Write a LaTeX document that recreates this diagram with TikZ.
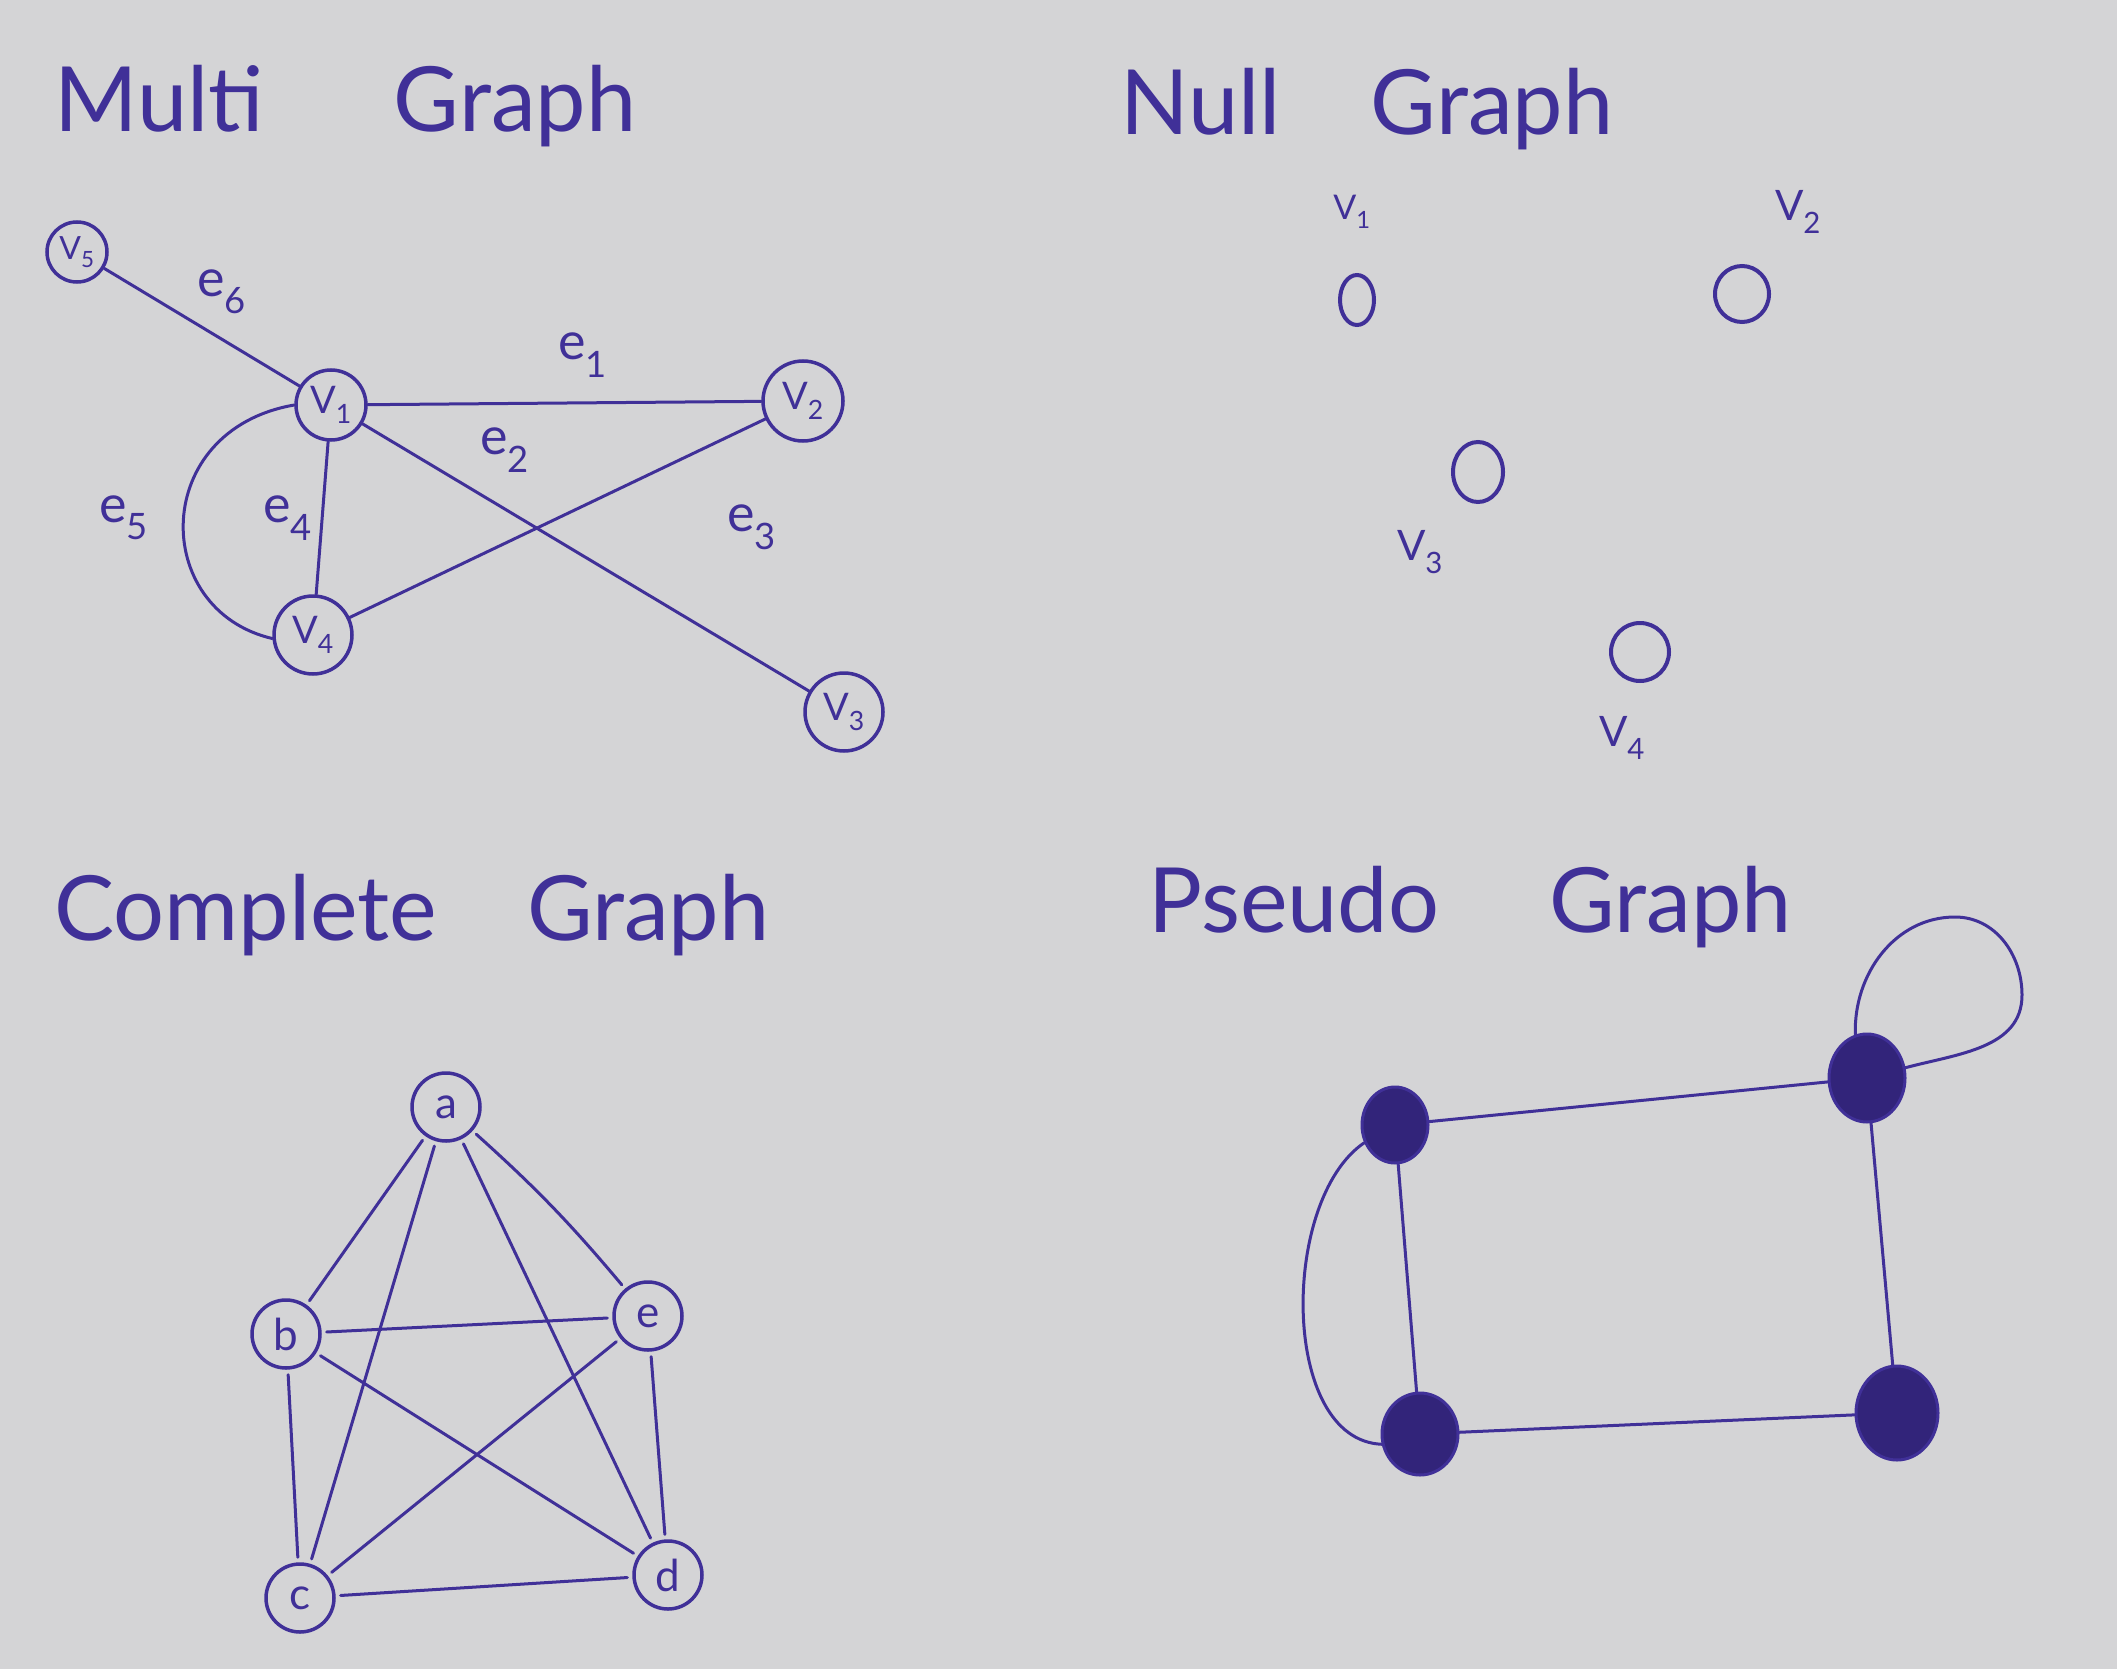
\documentclass[tikz,border=0pt]{standalone}
\usepackage{fontspec}
\setmainfont{Lato}
\usetikzlibrary{shapes.geometric}
\definecolor{ink}{RGB}{64,48,152}
\definecolor{paper}{RGB}{212,212,214}
\definecolor{dotink}{RGB}{50,36,122}
\begin{document}
\begin{tikzpicture}[x=1pt,y=-1pt,
  pen/.style={draw=ink, line width=3pt, line cap=round},
  vtx/.style={circle, draw=ink, line width=3.5pt, minimum size=75pt, inner sep=0pt, text=ink, font=\fontsize{38}{40}\selectfont},
  cvtx/.style={circle, draw=ink, line width=3.5pt, minimum size=68pt, inner sep=0pt, text=ink, font=\fontsize{44}{46}\selectfont},
  edgelab/.style={text=ink, inner sep=0pt, font=\fontsize{52}{56}\selectfont},
  vlab/.style={text=ink, inner sep=0pt, font=\fontsize{42}{46}\selectfont},
  title/.style={text=ink, anchor=base west, inner sep=0pt, font=\fontsize{90}{100}\selectfont},
  nullv/.style={ellipse, draw=ink, line width=4pt, inner sep=0pt},
  blob/.style={ellipse, fill=dotink, draw=ink, line width=3pt, minimum width=72pt, minimum height=84pt, inner sep=0pt},
  kedge/.style={pen, shorten >=5pt, shorten <=5pt}]
\fill[paper] (0,0) rectangle (2117,1669);
\useasboundingbox (0,0) rectangle (2117,1669);

% Titles
\node[title] (t1) at (54,132) {Multi\hspace{130pt}Graph};
\node[title] (t2) at (1120,135) {Null\hspace{90pt}Graph};
\node[title] (t3) at (54,940) {Complete\hspace{90pt}Graph};
\node[title] (t4) at (1148,932) {Pseudo\hspace{110pt}Graph};

% Multi graph
\node[vtx, minimum size=60pt, font=\fontsize{32}{34}\selectfont] (v5) at (77,252) {V\textsubscript{5}};
\node[vtx, minimum size=70pt] (v1) at (331,405) {V\textsubscript{1}};
\node[vtx, minimum size=80pt] (v2) at (803,401) {V\textsubscript{2}};
\node[vtx, minimum size=78pt] (v3) at (844,712) {V\textsubscript{3}};
\node[vtx, minimum size=78pt] (v4) at (313,635) {V\textsubscript{4}};
\draw[pen] (v5) -- (v1);
\draw[pen] (v1) -- (v2);
\draw[pen] (v1) -- (v3);
\draw[pen] (v2) -- (v4);
\draw[pen] (v1) -- (v4);
\draw[pen] (v1.180) .. controls (150,430) and (150,610) .. (v4.185);
\node[edgelab] (e6) at (222,292) {e\textsubscript{6}};
\node[edgelab] (e1) at (583,355) {e\textsubscript{1}};
\node[edgelab] (e2) at (505,450) {e\textsubscript{2}};
\node[edgelab] (e3) at (752,527) {e\textsubscript{3}};
\node[edgelab] (e5) at (124,518) {e\textsubscript{5}};
\node[edgelab] (e4) at (288,518) {e\textsubscript{4}};

% Null graph
\node[nullv, minimum width=34pt, minimum height=50pt] (n1) at (1357,300) {};
\node[nullv, minimum width=54pt, minimum height=56pt] (n2) at (1742,294) {};
\node[nullv, minimum width=50pt, minimum height=60pt] (n3) at (1478,472) {};
\node[nullv, minimum width=58pt, minimum height=58pt] (n4) at (1640,652) {};
\node[vlab, font=\fontsize{34}{36}\selectfont] (l1) at (1352,212) {V\textsubscript{1}};
\node[vlab] (l2) at (1798,212) {V\textsubscript{2}};
\node[vlab] (l3) at (1420,552) {V\textsubscript{3}};
\node[vlab] (l4) at (1622,738) {V\textsubscript{4}};

% Complete graph
\node[cvtx] (a) at (446,1107) {a};
\node[cvtx] (b) at (286,1334) {b};
\node[cvtx] (e) at (648,1316) {e};
\node[cvtx] (c) at (300,1598) {c};
\node[cvtx] (d) at (668,1575) {d};
\draw[kedge] (b) -- (a);
\draw[kedge] (e) to[bend right=4] (a);
\draw[kedge] (a) -- (c);
\draw[kedge] (a) -- (d);
\draw[kedge] (e) -- (b);
\draw[kedge] (b) -- (d);
\draw[kedge] (b) -- (c);
\draw[kedge] (e) -- (c);
\draw[kedge] (e) -- (d);
\draw[kedge] (d) -- (c);

% Pseudo graph
\node[blob, minimum width=66pt, minimum height=76pt] (tl) at (1395,1125) {};
\node[blob, minimum width=76pt, minimum height=88pt] (tr) at (1867,1078) {};
\node[blob, minimum width=76pt, minimum height=82pt] (bl) at (1420,1434) {};
\node[blob, minimum width=82pt, minimum height=94pt] (br) at (1897,1413) {};
\draw[pen] (tl) -- (tr);
\draw[pen] (bl) -- (br);
\draw[pen] (tl) -- (bl);
\draw[pen] (tr) -- (br);
\draw[pen] (tl.210) .. controls (1280,1200) and (1280,1440) .. (bl.195);
\draw[pen] (tr.105) to[out=92,in=180] (1955,917) to[out=0,in=90] (2022,995) to[out=-90,in=15] (tr.15);
\end{tikzpicture}
\end{document}
